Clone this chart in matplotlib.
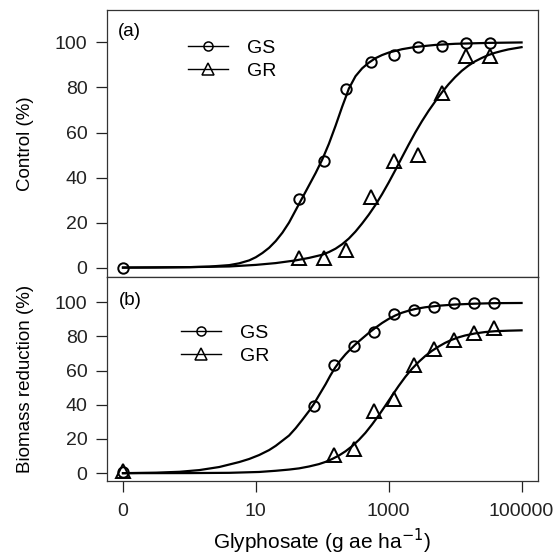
import numpy as np
import matplotlib
matplotlib.use("Agg")
import matplotlib.pyplot as plt
from matplotlib.lines import Line2D

plt.rcParams['font.family'] = ['Liberation Sans', 'DejaVu Sans']

# observed points, dose 0 is drawn at 0.1 on the log axis
zero_pos = 0.1

a_dose_gs = [0, 45, 105, 230, 540, 1210, 2750, 6300, 14400, 33300]
a_gs = [0, 30.3, 47.5, 79.2, 91.5, 94.4, 97.8, 98.6, 99.6, 99.6]
a_dose_gr = [45, 105, 230, 540, 1210, 2750, 6300, 14400, 33300]
a_gr = [4.2, 4.1, 7.8, 31.5, 47.2, 49.8, 77.4, 94.2, 94.2]

b_dose_gs = [0, 75, 150, 300, 600, 1200, 2400, 4800, 9600, 19200, 38400]
b_gs = [0.7, 39.4, 63.2, 74.4, 82.3, 92.8, 95.2, 97.0, 99.5, 99.5, 99.5]
b_dose_gr = [0, 150, 300, 600, 1200, 2400, 4800, 9600, 19200, 38400]
b_gr = [1.2, 10.8, 13.9, 36.3, 43.4, 63.3, 72.8, 77.9, 81.9, 84.6]

# fitted curves (log10 dose, percent)
a_fit_gs_logx = [-1.0, -0.5, 0.0, 0.3, 0.6, 0.75, 0.9, 1.0, 1.1, 1.2, 1.3, 1.4, 1.5, 1.6, 1.7, 1.8, 1.9,
                 2.0, 2.1, 2.2, 2.3, 2.37, 2.4, 2.5, 2.6, 2.7, 2.8, 2.9, 3.0, 3.2, 3.4, 3.7, 4.0, 4.5, 5.0]
a_fit_gs = [0, 0.05, 0.2, 0.45, 1.1, 1.9, 3.2, 4.6, 6.5, 8.8, 11.8, 15.5, 20.0, 25.5, 31.0, 36.5, 42.0,
            48.0, 55.0, 63.0, 71.5, 77.0, 79.5, 85.0, 88.5, 91.0, 93.0, 94.4, 95.5, 97.0, 98.0, 98.9, 99.4, 99.8, 100]
a_fit_gr_logx = [-1.0, 0.0, 0.6, 1.0, 1.3, 1.6, 1.8, 2.0, 2.1, 2.2, 2.3, 2.4, 2.5, 2.6, 2.7, 2.8, 2.9,
                 3.0, 3.1, 3.2, 3.3, 3.4, 3.5, 3.6, 3.7, 3.8, 3.9, 4.0, 4.1, 4.2, 4.3, 4.4, 4.5, 4.6,
                 4.7, 4.8, 4.9, 5.0]
a_fit_gr = [0, 0.2, 0.5, 1.2, 2.0, 3.2, 4.3, 5.7, 6.9, 8.4, 10.4, 12.9, 16.0, 19.6, 23.5, 27.8, 32.6,
            37.8, 43.3, 49.0, 54.6, 60.0, 65.0, 69.6, 73.8, 77.8, 81.4, 84.6, 87.4, 89.7, 91.6, 93.1, 94.4, 95.4,
            96.2, 96.9, 97.4, 97.9]

b_fit_gs_logx = [-1.0, -0.5, -0.15, 0.15, 0.45, 0.75, 0.9, 1.05, 1.2, 1.3, 1.4, 1.5, 1.6, 1.7, 1.8, 1.874,
                 1.95, 2.05, 2.12, 2.19, 2.27, 2.35, 2.42, 2.49, 2.6, 2.7, 2.8, 2.9, 3.0, 3.1, 3.2, 3.3, 3.4,
                 3.55, 3.75, 4.0, 4.3, 4.6, 5.0]
b_fit_gs = [0, 0.3, 0.8, 1.8, 3.6, 6.5, 8.3, 10.6, 13.5, 16.0, 19.0, 22.0, 26.3, 31.2, 36.3, 40.5,
            45.5, 52.0, 57.0, 61.5, 65.8, 69.5, 72.3, 75.0, 78.7, 82.0, 85.0, 87.8, 90.2, 92.2, 93.8, 95.0, 96.0,
            97.0, 97.9, 98.6, 99.1, 99.4, 99.5]
b_fit_gr_logx = [-1.0, 0.0, 0.6, 1.05, 1.3, 1.5, 1.65, 1.8, 1.95, 2.05, 2.15, 2.25, 2.35, 2.45, 2.55, 2.65,
                 2.75, 2.85, 2.95, 3.05, 3.15, 3.25, 3.35, 3.45, 3.55, 3.65, 3.75, 3.85, 3.95, 4.05, 4.15,
                 4.3, 4.45, 4.6, 4.8, 5.0]
b_fit_gr = [0, 0.05, 0.2, 0.7, 1.4, 2.1, 2.8, 3.9, 5.3, 6.6, 8.3, 10.3, 12.8, 15.8, 19.4, 23.6,
            28.5, 33.8, 39.5, 45.3, 51.0, 56.3, 61.0, 65.0, 68.5, 71.5, 74.0, 76.2, 78.0, 79.4, 80.5,
            81.7, 82.5, 83.0, 83.3, 83.5]

panel_ylabels = ["Control (%)", "Biomass reduction (%)"]
panel_tags = ["(a)", "(b)"]
xtick_vals = [0, 10, 1000, 100000]
ytick_vals = [0, 20, 40, 60, 80, 100]


def pos(d):
    return [zero_pos if v == 0 else v for v in d]


fig = plt.figure(figsize=(5.58, 5.57), dpi=100)
ax_a = fig.add_axes([0.1918, 0.5018, 0.7715, 0.4802])
ax_b = fig.add_axes([0.1918, 0.137, 0.7715, 0.3648])

panels = [
    (ax_a, a_dose_gs, a_gs, a_dose_gr, a_gr, a_fit_gs_logx, a_fit_gs, a_fit_gr_logx, a_fit_gr),
    (ax_b, b_dose_gs, b_gs, b_dose_gr, b_gr, b_fit_gs_logx, b_fit_gs, b_fit_gr_logx, b_fit_gr),
]

lg_anchor = [(0.1875, 0.89), (0.172, 0.768)]
tag_pos = [(0.053, 0.921), (0.053, 0.889)]

for i, (ax, dgs, ygs, dgr, ygr, fxs, fys, fxr, fyr) in enumerate(panels):
    ax.plot(10 ** np.array(fxs), fys, color='black', lw=1.6, zorder=2)
    ax.plot(10 ** np.array(fxr), fyr, color='black', lw=1.6, zorder=2)
    ax.plot(pos(dgs), ygs, 'o', ms=7.5, mfc='none', mec='black', mew=1.4, zorder=3)
    ax.plot(pos(dgr), ygr, '^', ms=10, mfc='none', mec='black', mew=1.4, zorder=3)

    ax.set_xscale('log')
    ax.set_xlim(10 ** -1.24, 10 ** 5.24)
    ax.set_ylim(-4.4, 114.4)
    ax.minorticks_off()
    ax.set_yticks(ytick_vals)
    ax.set_yticklabels([str(v) for v in ytick_vals])
    ax.tick_params(axis='y', direction='out', length=8, width=0.9, pad=6, labelsize=14, colors='#222222')
    for s in ax.spines.values():
        s.set_color('#333333')
        s.set_linewidth(0.9)

    ax.set_ylabel(panel_ylabels[i], fontsize=13.5)
    ax.yaxis.set_label_coords(-0.19, 0.5)
    ax.yaxis.label.set_va('center')

    ax.text(tag_pos[i][0], tag_pos[i][1], panel_tags[i], transform=ax.transAxes,
            fontsize=13.5, ha='center', va='center')

    handles = [Line2D([], [], color='black', lw=1, marker='o', ms=6.5, mfc='none', mew=1.1),
               Line2D([], [], color='black', lw=1, marker='^', ms=9, mfc='none', mew=1.1)]
    ax.legend(handles, ["GS", "GR"], loc='upper left', bbox_to_anchor=lg_anchor[i],
              frameon=False, borderaxespad=0, borderpad=0, fontsize=14,
              handlelength=2.05, handletextpad=1.0, labelspacing=0.28)

ax_a.set_xticks([])
ax_b.set_xticks([zero_pos if v == 0 else v for v in xtick_vals])
ax_b.set_xticklabels([str(v) for v in xtick_vals])
ax_b.tick_params(axis='x', direction='out', length=8, width=0.9, pad=8, labelsize=14, colors='#222222')
ax_b.set_xlabel("Glyphosate (g ae ha$^{-1}$)", fontsize=15)
ax_b.xaxis.set_label_coords(0.5, -0.3)
ax_b.xaxis.label.set_va('center')

fig.savefig("out.png", dpi=100)
